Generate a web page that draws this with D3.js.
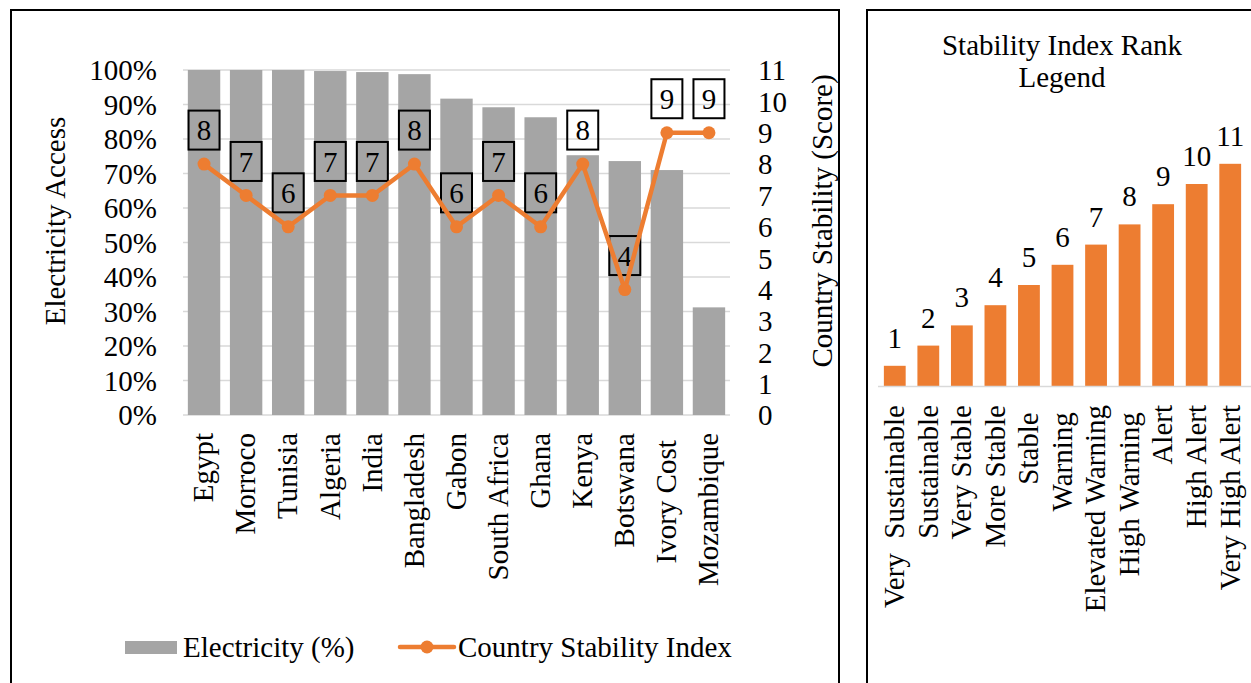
<!DOCTYPE html>
<html>
<head>
<meta charset="utf-8">
<script src="https://cdn.jsdelivr.net/npm/d3@7"></script>
<style>
  html, body { margin: 0; padding: 0; background: #fff; }
  svg { display: block; }
  text { font-family: "Liberation Serif", "Times New Roman", serif; fill: #000; white-space: pre; }
</style>
</head>
<body>
<svg id="chart" width="1251" height="683"></svg>
<script>
// Electricity access vs. country stability index
const countries = ["Egypt", "Morroco", "Tunisia", "Algeria", "India", "Bangladesh", "Gabon",
                   "South Africa", "Ghana", "Kenya", "Botswana", "Ivory Cost ", "Mozambique"];
const electricity = [1.00, 1.00, 1.00, 0.997, 0.994, 0.988, 0.917, 0.892, 0.863, 0.753, 0.736, 0.710, 0.312];
const stability = [8, 7, 6, 7, 7, 8, 6, 7, 6, 8, 4, 9, 9];
const pctTicks = [0, 0.1, 0.2, 0.3, 0.4, 0.5, 0.6, 0.7, 0.8, 0.9, 1.0];
const scoreTicks = [0, 1, 2, 3, 4, 5, 6, 7, 8, 9, 10, 11];

// Rank legend panel
const rankNames = ["Very  Sustainable", "Sustainable", "Very Stable", "More Stable", "Stable ",
                   "Warning ", "Elevated Warning", "High Warning ", "Alert", "High Alert", "Very High Alert"];
const rankValues = [1, 2, 3, 4, 5, 6, 7, 8, 9, 10, 11];

const GREY = "#a5a5a5";
const ORANGE = "#ed7d31";
const GRID = "#d9d9d9";
const FS = 29;

const svg = d3.select("#chart");
svg.append("rect").attr("width", 1251).attr("height", 683).attr("fill", "#fff");

// ---------- Left panel ----------
svg.append("rect").attr("x", 11).attr("y", 10).attr("width", 828).attr("height", 690)
  .attr("fill", "none").attr("stroke", "#000").attr("stroke-width", 2);

const x = d3.scaleBand().domain(countries).range([183, 730]).paddingInner(0.23).paddingOuter(0.115);
const yPct = d3.scaleLinear().domain([0, 1]).range([415, 70]);
const yScore = d3.scaleLinear().domain([0, 11]).range([415, 70]);

// gridlines
svg.append("g").selectAll("line").data(pctTicks).join("line")
  .attr("x1", 183).attr("x2", 730)
  .attr("y1", d => yPct(d)).attr("y2", d => yPct(d))
  .attr("stroke", GRID).attr("stroke-width", 1.5);

// bars
svg.append("g").selectAll("rect").data(countries).join("rect")
  .attr("x", d => x(d)).attr("width", x.bandwidth())
  .attr("y", (d, i) => yPct(electricity[i]))
  .attr("height", (d, i) => yPct(0) - yPct(electricity[i]))
  .attr("fill", GREY);

// left axis
const leftAxis = svg.append("g").attr("transform", "translate(157,0)")
  .call(d3.axisLeft(yPct).tickValues(pctTicks).tickFormat(d3.format(".0%")).tickSize(0).tickPadding(0));
leftAxis.select(".domain").remove();
leftAxis.selectAll("text").attr("font-size", FS).attr("font-family", null).attr("dy", "0.34em");

// right axis
const rightAxis = svg.append("g").attr("transform", "translate(758,0)")
  .call(d3.axisRight(yScore).tickValues(scoreTicks).tickSize(0).tickPadding(0));
rightAxis.select(".domain").remove();
rightAxis.selectAll("text").attr("font-size", FS).attr("font-family", null).attr("dy", "0.34em");

// axis titles
svg.append("text").attr("transform", "translate(55,221) rotate(-90)")
  .attr("text-anchor", "middle").attr("dy", "0.34em").attr("font-size", FS).text("Electricity Access");
svg.append("text").attr("transform", "translate(822,221) rotate(-90)")
  .attr("text-anchor", "middle").attr("dy", "0.34em").attr("font-size", FS).text("Country Stability (Score)");

// category labels
svg.append("g").selectAll("text").data(countries).join("text")
  .attr("transform", d => `translate(${x(d) + x.bandwidth() / 2},433) rotate(-90)`)
  .attr("text-anchor", "end").attr("dy", "0.32em").attr("font-size", FS).text(d => d);

// boxed value labels
const cx = d => x(d) + x.bandwidth() / 2;
const labels = svg.append("g").selectAll("g").data(countries).join("g")
  .attr("transform", (d, i) => `translate(${cx(d)},${yScore(stability[i]) - 34})`);
labels.append("rect").attr("x", -15.5).attr("y", -19.5).attr("width", 31).attr("height", 39)
  .attr("fill", "none").attr("stroke", "#000").attr("stroke-width", 2);
labels.append("text").attr("text-anchor", "middle").attr("dy", "0.35em").attr("font-size", FS)
  .text((d, i) => stability[i]);

// stability line + markers
const line = d3.line().x(d => cx(d[0])).y(d => yScore(d[1]));
svg.append("path").datum(countries.map((c, i) => [c, stability[i]]))
  .attr("d", line).attr("fill", "none").attr("stroke", ORANGE).attr("stroke-width", 4.5)
  .attr("stroke-linejoin", "round");
svg.append("g").selectAll("circle").data(countries).join("circle")
  .attr("cx", d => cx(d)).attr("cy", (d, i) => yScore(stability[i])).attr("r", 6.5).attr("fill", ORANGE);

// legend
const legend = svg.append("g");
legend.append("rect").attr("x", 125).attr("y", 641).attr("width", 52).attr("height", 13).attr("fill", GREY);
legend.append("text").attr("x", 183).attr("y", 647).attr("dy", "0.34em").attr("font-size", FS).text("Electricity (%)");
legend.append("line").attr("x1", 400).attr("x2", 454).attr("y1", 647).attr("y2", 647)
  .attr("stroke", ORANGE).attr("stroke-width", 4.5).attr("stroke-linecap", "round");
legend.append("circle").attr("cx", 427).attr("cy", 647).attr("r", 6.5).attr("fill", ORANGE);
legend.append("text").attr("x", 458).attr("y", 647).attr("dy", "0.34em").attr("font-size", FS).text("Country Stability Index");

// ---------- Right panel ----------
svg.append("rect").attr("x", 867).attr("y", 10).attr("width", 400).attr("height", 690)
  .attr("fill", "none").attr("stroke", "#000").attr("stroke-width", 2);

svg.append("text").attr("x", 1062).attr("y", 55).attr("text-anchor", "middle").attr("font-size", FS)
  .text("Stability Index Rank");
svg.append("text").attr("x", 1062).attr("y", 87).attr("text-anchor", "middle").attr("font-size", FS)
  .text("Legend");

const xr = d3.scaleBand().domain(rankNames).range([878, 1247]).paddingInner(0.35).paddingOuter(0.175);
const yr = d3.scaleLinear().domain([0, 12]).range([386, 143.6]);

svg.append("g").selectAll("rect").data(rankNames).join("rect")
  .attr("x", d => xr(d)).attr("width", xr.bandwidth())
  .attr("y", (d, i) => yr(rankValues[i])).attr("height", (d, i) => yr(0) - yr(rankValues[i]))
  .attr("fill", ORANGE);

svg.append("line").attr("x1", 878).attr("x2", 1251).attr("y1", 386.5).attr("y2", 386.5)
  .attr("stroke", GRID).attr("stroke-width", 1.5);

svg.append("g").selectAll("text").data(rankNames).join("text")
  .attr("x", d => xr(d) + xr.bandwidth() / 2).attr("y", (d, i) => yr(rankValues[i]) - 18)
  .attr("text-anchor", "middle").attr("font-size", FS).text((d, i) => rankValues[i]);

svg.append("g").selectAll("text").data(rankNames).join("text")
  .attr("transform", d => `translate(${xr(d) + xr.bandwidth() / 2},405) rotate(-90)`)
  .attr("text-anchor", "end").attr("dy", "0.32em").attr("font-size", FS).text(d => d);
</script>
</body>
</html>
